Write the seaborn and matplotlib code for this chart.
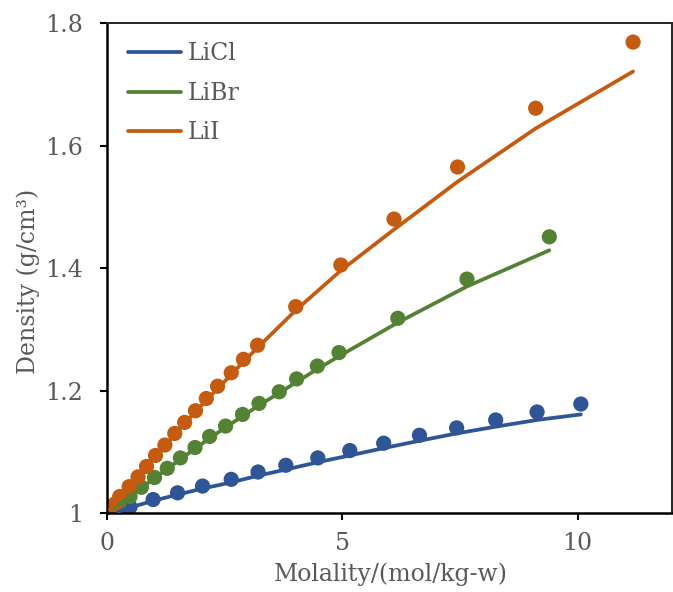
import numpy as np
import pandas as pd
import matplotlib
matplotlib.use("Agg")
import matplotlib.pyplot as plt
import seaborn as sns

# ---- data ----
licl_m = [0.24, 0.49, 0.98, 1.50, 2.03, 2.64, 3.21, 3.80, 4.48, 5.16, 5.88, 6.64, 7.43, 8.26, 9.14, 10.07]
licl_rho = [1.002, 1.010, 1.022, 1.033, 1.044, 1.055, 1.067, 1.078, 1.090, 1.102, 1.114, 1.127, 1.139, 1.152, 1.165, 1.178]
licl_model = [1.002, 1.009, 1.020, 1.030, 1.040, 1.050, 1.061, 1.071, 1.083, 1.094, 1.106, 1.118, 1.130, 1.141, 1.152, 1.161]

libr_m = [0.10, 0.25, 0.49, 0.73, 1.01, 1.28, 1.56, 1.87, 2.18, 2.52, 2.88, 3.23, 3.66, 4.03, 4.47, 4.93, 6.18, 7.65, 9.40]
libr_rho = [1.006, 1.015, 1.027, 1.042, 1.058, 1.073, 1.090, 1.107, 1.125, 1.142, 1.161, 1.179, 1.198, 1.219, 1.240, 1.262, 1.318, 1.382, 1.451]
libr_model = [1.006, 1.014, 1.026, 1.041, 1.057, 1.072, 1.088, 1.105, 1.122, 1.140, 1.158, 1.176, 1.196, 1.214, 1.235, 1.256, 1.311, 1.370, 1.429]

lii_m = [0.063, 0.17, 0.27, 0.47, 0.66, 0.84, 1.03, 1.23, 1.44, 1.65, 1.88, 2.11, 2.35, 2.64, 2.90, 3.20, 4.01, 4.97, 6.10, 7.45, 9.11, 11.18]
lii_rho = [1.006, 1.015, 1.027, 1.043, 1.059, 1.076, 1.094, 1.111, 1.130, 1.148, 1.167, 1.187, 1.207, 1.229, 1.251, 1.274, 1.337, 1.405, 1.480, 1.565, 1.661, 1.769]
lii_model = [1.006, 1.015, 1.026, 1.042, 1.058, 1.075, 1.092, 1.109, 1.128, 1.146, 1.165, 1.184, 1.203, 1.226, 1.247, 1.270, 1.331, 1.396, 1.463, 1.541, 1.628, 1.721]

salts = ["LiCl", "LiBr", "LiI"]
colors = ["#2F5597", "#548235", "#C55A11"]
x_ticks = [0, 5, 10]
y_ticks = [1.0, 1.2, 1.4, 1.6, 1.8]
y_ticklabels = ["1", "1.2", "1.4", "1.6", "1.8"]

frames = []
for name, m, rho, mod in [("LiCl", licl_m, licl_rho, licl_model),
                          ("LiBr", libr_m, libr_rho, libr_model),
                          ("LiI", lii_m, lii_rho, lii_model)]:
    frames.append(pd.DataFrame({"salt": name, "m": m, "rho": rho, "model": mod}))
df = pd.concat(frames, ignore_index=True)

sns.set_style("white")
plt.rcParams["font.family"] = ["DejaVu Serif"]
text_color = "#595959"
fs = 17

fig = plt.figure(figsize=(6.73, 5.92), dpi=100)
ax = fig.add_axes([0.159, 0.1334, 0.839, 0.8276])

palette = dict(zip(salts, colors))
sns.scatterplot(data=df, x="m", y="rho", hue="salt", palette=palette, hue_order=salts,
                s=120, linewidth=0, ax=ax, legend=False, zorder=2)
sns.lineplot(data=df, x="m", y="model", hue="salt", palette=palette, hue_order=salts,
             linewidth=2.7, ax=ax, sort=True, estimator=None, zorder=3,
             solid_capstyle="round")

ax.set_xlim(0, 12)
ax.set_ylim(1.0, 1.8)
ax.set_xticks(x_ticks)
ax.set_xticklabels([str(t) for t in x_ticks])
ax.set_yticks(y_ticks)
ax.set_yticklabels(y_ticklabels)

ax.tick_params(axis="both", direction="out", length=5, width=1.5, colors="black",
               labelcolor=text_color, labelsize=fs)
ax.tick_params(axis="x", pad=9)
ax.tick_params(axis="y", pad=12)
ax.tick_params(top=False, right=False, bottom=True, left=True)

for side in ["left", "bottom"]:
    ax.spines[side].set_color("black")
    ax.spines[side].set_linewidth(1.8)
for side in ["top", "right"]:
    ax.spines[side].set_color("#262626")
    ax.spines[side].set_linewidth(1.4)

ax.set_xlabel("Molality/(mol/kg-w)", fontsize=fs, color=text_color)
ax.set_ylabel("Density (g/cm³)", fontsize=fs, color=text_color)
ax.xaxis.set_label_coords(0.5035, -0.100)
ax.yaxis.set_label_coords(-0.118, 0.473)

leg = ax.legend(loc="upper left", bbox_to_anchor=(0.0, 1.004), frameon=False,
                fontsize=fs, handlelength=2.25, handletextpad=0.25, labelspacing=0.7)
for t in leg.get_texts():
    t.set_color(text_color)
for h in leg.get_lines():
    h.set_linewidth(2.7)

fig.savefig("out.png", dpi=100)
